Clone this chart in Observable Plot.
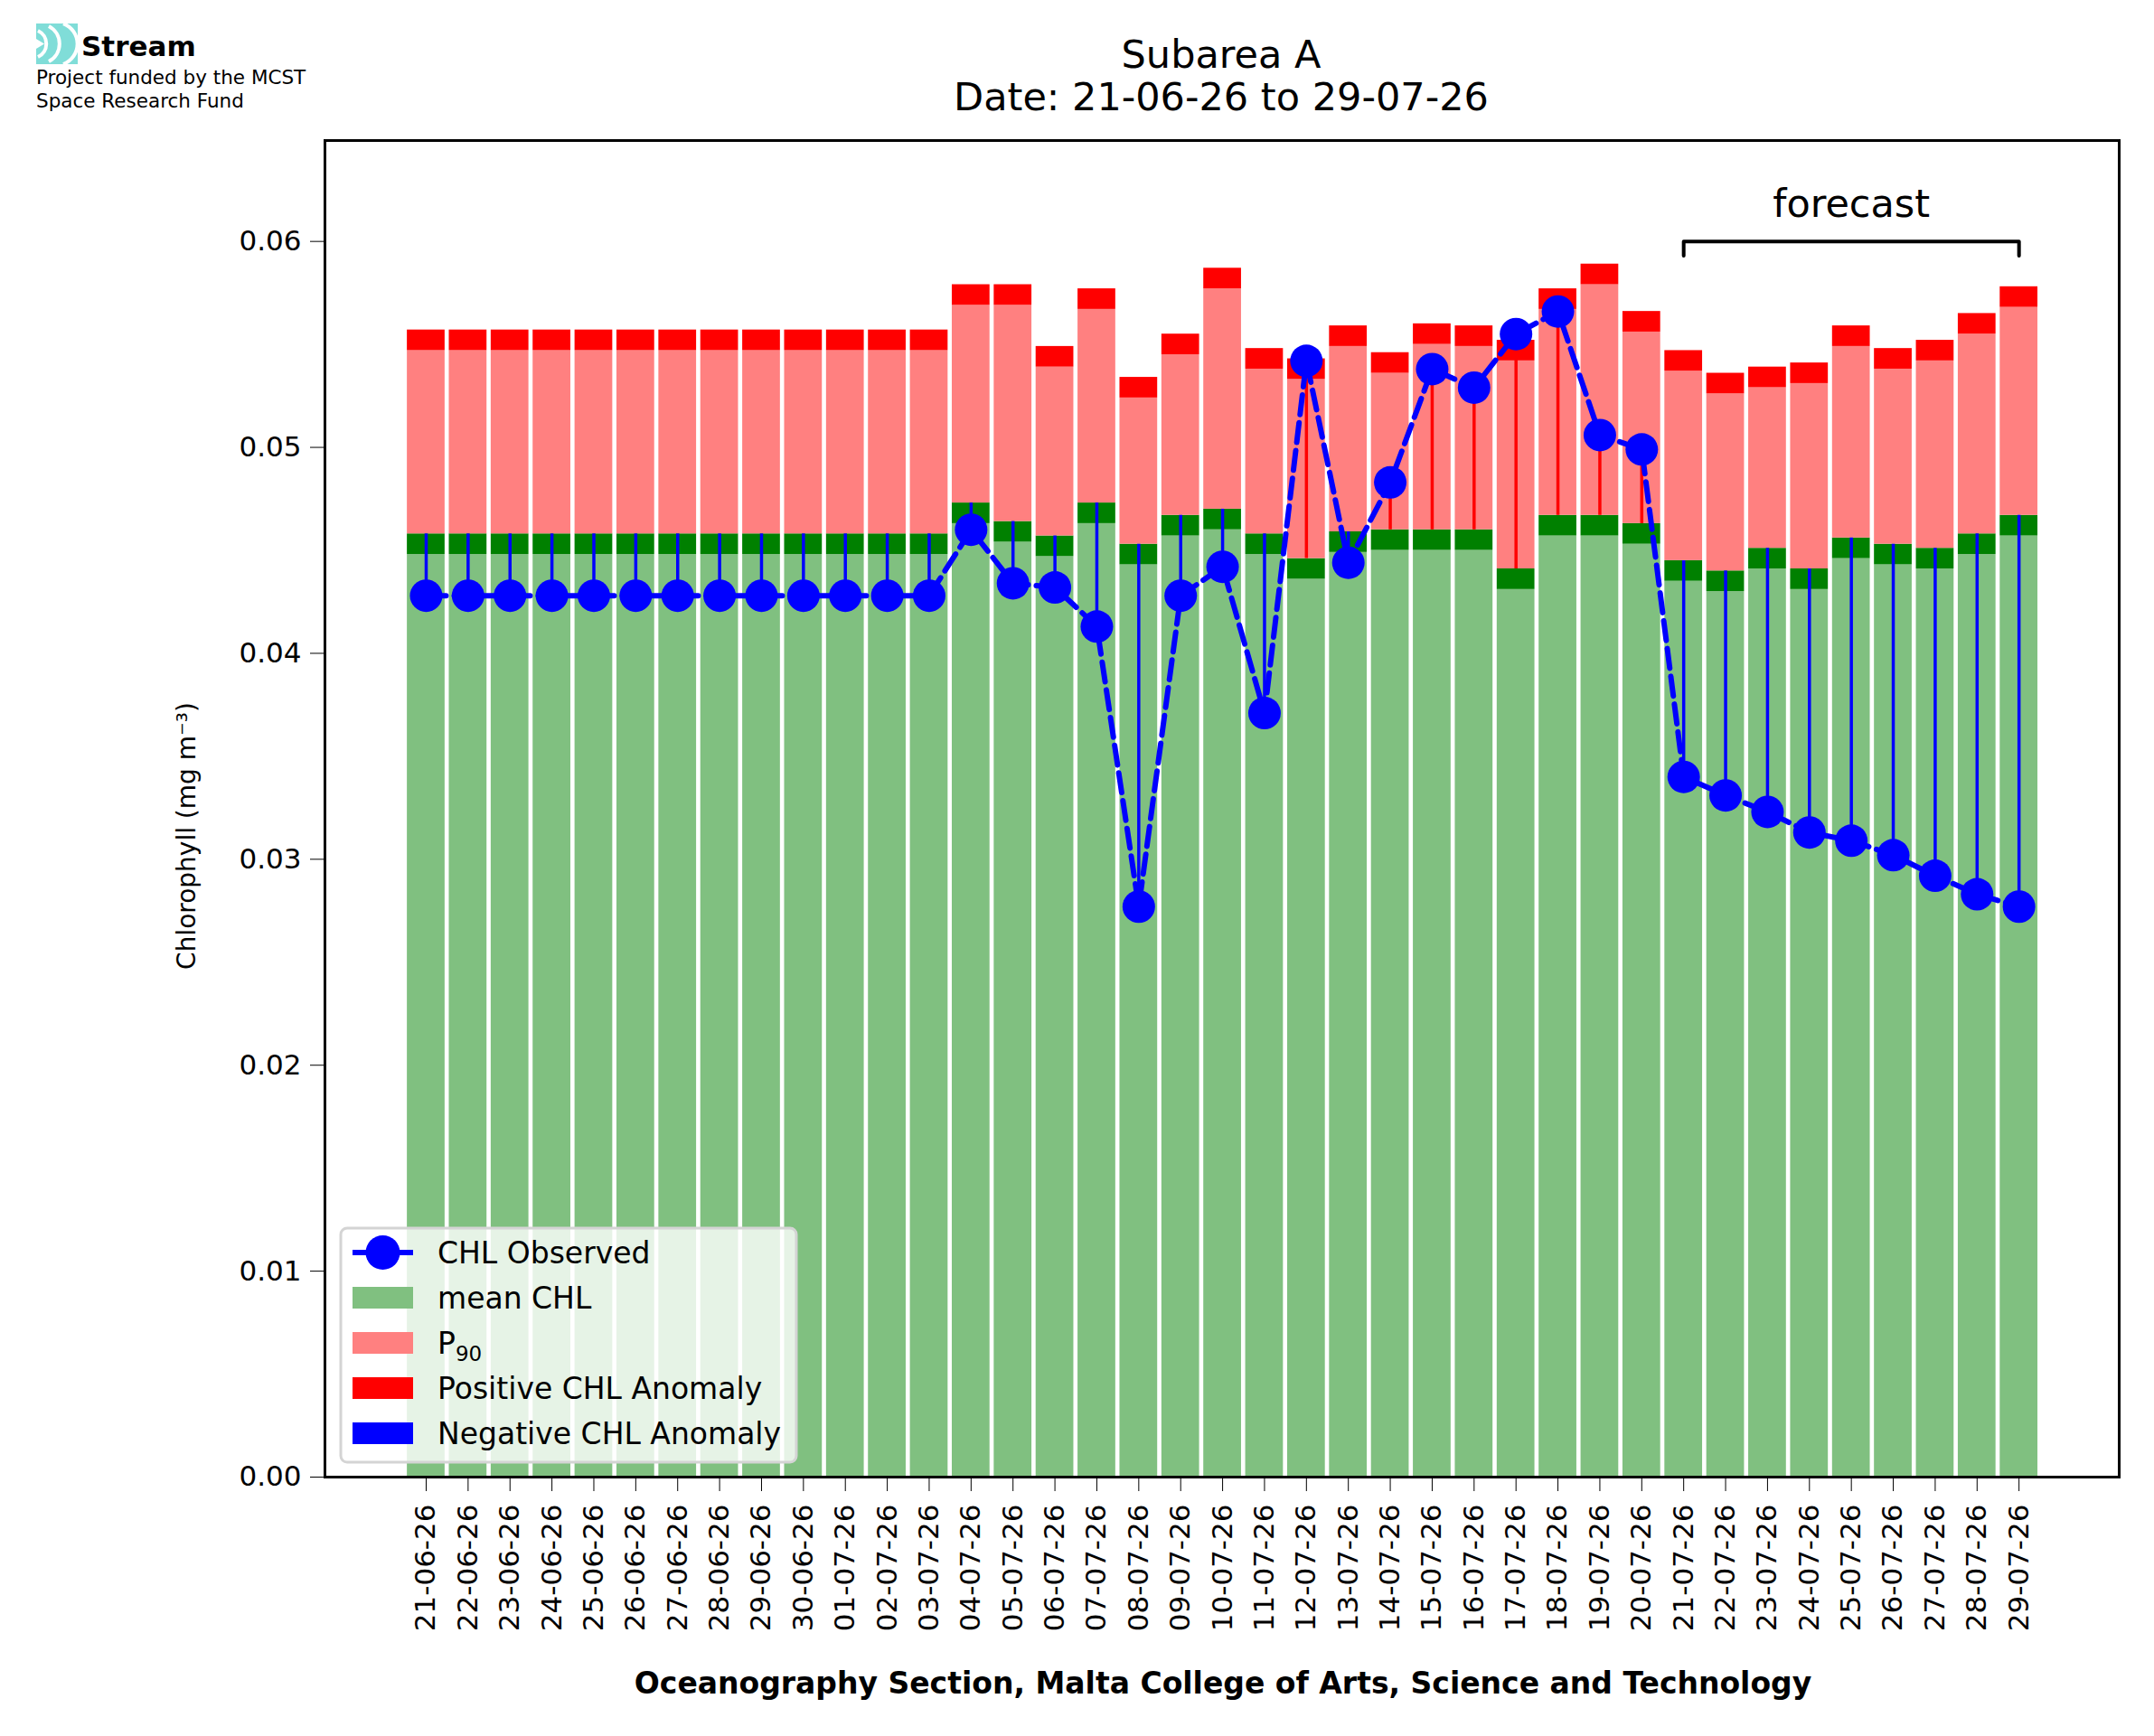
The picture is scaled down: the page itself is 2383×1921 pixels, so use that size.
<!DOCTYPE html>
<html>
<head>
<meta charset="utf-8">
<script src="https://cdn.jsdelivr.net/npm/d3@7"></script>
<script src="https://cdn.jsdelivr.net/npm/@observablehq/plot@0.6"></script>
<style>
  body { margin: 0; background: white; }
  #wrap { position: relative; width: 2383px; height: 1921px; }
  #overlay { position: absolute; left: 0; top: 0; pointer-events: none; font-family: "DejaVu Sans", sans-serif; }
</style>
</head>
<body>
<div id="wrap">
  <div id="chart"></div>
  <svg id="overlay" width="2383" height="1921"></svg>
</div>
<script>
const dates = ["21-06-26","22-06-26","23-06-26","24-06-26","25-06-26","26-06-26","27-06-26","28-06-26","29-06-26","30-06-26",
  "01-07-26","02-07-26","03-07-26","04-07-26","05-07-26","06-07-26","07-07-26","08-07-26","09-07-26","10-07-26",
  "11-07-26","12-07-26","13-07-26","14-07-26","15-07-26","16-07-26","17-07-26","18-07-26","19-07-26","20-07-26",
  "21-07-26","22-07-26","23-07-26","24-07-26","25-07-26","26-07-26","27-07-26","28-07-26","29-07-26"];
const meanChl = [0.0458,0.0458,0.0458,0.0458,0.0458,0.0458,0.0458,0.0458,0.0458,0.0458,0.0458,0.0458,0.0458,
  0.0473,0.0464,0.0457,0.0473,0.0453,0.0467,0.0470,0.0458,0.0446,0.0459,0.0460,0.0460,0.0460,0.0441,0.0467,0.0467,0.0463,
  0.0445,0.0440,0.0451,0.0441,0.0456,0.0453,0.0451,0.0458,0.0467];
const p90Chl = [0.0557,0.0557,0.0557,0.0557,0.0557,0.0557,0.0557,0.0557,0.0557,0.0557,0.0557,0.0557,0.0557,
  0.0579,0.0579,0.0549,0.0577,0.0534,0.0555,0.0587,0.0548,0.0543,0.0559,0.0546,0.0560,0.0559,0.0552,0.0577,0.0589,0.0566,
  0.0547,0.0536,0.0539,0.0541,0.0559,0.0548,0.0552,0.0565,0.0578];
const obsChl = [0.0428,0.0428,0.0428,0.0428,0.0428,0.0428,0.0428,0.0428,0.0428,0.0428,0.0428,0.0428,0.0428,
  0.0460,0.0434,0.0432,0.0413,0.0277,0.0428,0.0442,0.0371,0.0542,0.0444,0.0483,0.0538,0.0529,0.0555,0.0566,0.0506,0.0499,
  0.0340,0.0331,0.0323,0.0313,0.0309,0.0302,0.0292,0.0283,0.0277];
const band = 0.001;
const forecastStart = 30, forecastEnd = 38;

const idx = d3.range(dates.length);
const hw = 0.45;

const chart = Plot.plot({
  width: 2383, height: 1921,
  marginLeft: 359, marginRight: 39, marginTop: 155, marginBottom: 287,
  style: {fontFamily: "DejaVu Sans", fontSize: "31px", background: "white", color: "black"},
  x: {type: "linear", domain: [-2.415, 40.39], ticks: idx, tickFormat: i => dates[i], tickRotate: -90,
      tickSize: 16, tickPadding: 14, label: null},
  y: {domain: [0, 0.0649], ticks: d3.range(0, 0.061, 0.01), tickFormat: d3.format(".2f"),
      tickSize: 16, tickPadding: 10, label: null},
  marks: [
    Plot.rectY(idx, {x1: i => i - hw, x2: i => i + hw, y1: 0, y2: i => meanChl[i] - band, fill: "#80c080"}),
    Plot.rectY(idx, {x1: i => i - hw, x2: i => i + hw, y1: i => meanChl[i] - band, y2: i => meanChl[i], fill: "#008000"}),
    Plot.rectY(idx, {x1: i => i - hw, x2: i => i + hw, y1: i => meanChl[i], y2: i => p90Chl[i] - band, fill: "#ff8080"}),
    Plot.rectY(idx, {x1: i => i - hw, x2: i => i + hw, y1: i => p90Chl[i] - band, y2: i => p90Chl[i], fill: "#ff0000"}),
    Plot.ruleX(idx, {x: i => i, y1: i => obsChl[i], y2: i => meanChl[i],
      stroke: i => obsChl[i] >= meanChl[i] ? "#ff0000" : "#0000ff", strokeWidth: 3.5}),
    Plot.line(idx, {x: i => i, y: i => obsChl[i], stroke: "#0000ff", strokeWidth: 6, strokeDasharray: "22,9"}),
    Plot.dot(idx, {x: i => i, y: i => obsChl[i], r: 18, fill: "#0000ff"}),
    Plot.line([[forecastStart, 0.0593], [forecastStart, 0.0600], [forecastEnd, 0.0600], [forecastEnd, 0.0593]],
      {x: d => d[0], y: d => d[1], stroke: "black", strokeWidth: 4}),
    Plot.text(["forecast"], {x: (forecastStart + forecastEnd) / 2, y: 0.0618, text: d => d, fontSize: 43}),
    Plot.frame({stroke: "black", strokeWidth: 3})
  ]
});
document.getElementById("chart").append(chart);

// annotations: logo, titles, axis labels, legend
const ov = d3.select("#overlay");
const logo = ov.append("g").attr("transform", "translate(40,26)");
logo.append("rect").attr("width", 46).attr("height", 45).attr("fill", "#80ddd8");
[[2, 8, 16], [14, 3, 22], [30, 0, 24]].forEach(([x, y0, r]) =>
  logo.append("path").attr("d", `M${x},${y0} A${r},${r} 0 0 1 ${x},${45 - y0}`)
    .attr("fill", "none").attr("stroke", "white").attr("stroke-width", 4));
logo.append("path").attr("d", "M0,17 L9,22.5 L0,28 Z").attr("fill", "white");
ov.append("text").attr("x", 90).attr("y", 62).attr("font-size", 31).attr("font-weight", "bold").text("Stream");
ov.append("text").attr("x", 40).attr("y", 93).attr("font-size", 21.5).text("Project funded by the MCST");
ov.append("text").attr("x", 40).attr("y", 119).attr("font-size", 21.5).text("Space Research Fund");

ov.append("text").attr("x", 1351).attr("y", 75).attr("font-size", 43).attr("text-anchor", "middle").text("Subarea A");
ov.append("text").attr("x", 1351).attr("y", 122).attr("font-size", 43).attr("text-anchor", "middle").text("Date: 21-06-26 to 29-07-26");
ov.append("text").attr("transform", "translate(216,925) rotate(-90)").attr("font-size", 28).attr("text-anchor", "middle")
  .text("Chlorophyll (mg m⁻³)");
ov.append("text").attr("x", 1353).attr("y", 1874).attr("font-size", 33).attr("font-weight", "bold").attr("text-anchor", "middle")
  .text("Oceanography Section, Malta College of Arts, Science and Technology");

const lg = ov.append("g");
lg.append("rect").attr("x", 377).attr("y", 1359).attr("width", 504).attr("height", 259).attr("rx", 7)
  .attr("fill", "rgba(255,255,255,0.8)").attr("stroke", "#d4d4d4").attr("stroke-width", 3);
const items = [
  {label: "CHL Observed", type: "line"},
  {label: "mean CHL", color: "#80c080"},
  {label: "P", sub: "90", color: "#ff8080"},
  {label: "Positive CHL Anomaly", color: "#ff0000"},
  {label: "Negative CHL Anomaly", color: "#0000ff"}
];
items.forEach((it, k) => {
  const cy = 1386 + k * 50;
  if (it.type === "line") {
    lg.append("line").attr("x1", 390).attr("x2", 457).attr("y1", cy).attr("y2", cy).attr("stroke", "#0000ff").attr("stroke-width", 6);
    lg.append("circle").attr("cx", 423.5).attr("cy", cy).attr("r", 19).attr("fill", "#0000ff");
  } else {
    lg.append("rect").attr("x", 390).attr("y", cy - 12).attr("width", 67).attr("height", 24).attr("fill", it.color);
  }
  const t = lg.append("text").attr("x", 484).attr("y", cy + 12).attr("font-size", 33).text(it.label);
  if (it.sub) t.append("tspan").attr("font-size", 23).attr("dy", 8).text(it.sub);
});
</script>
</body>
</html>
